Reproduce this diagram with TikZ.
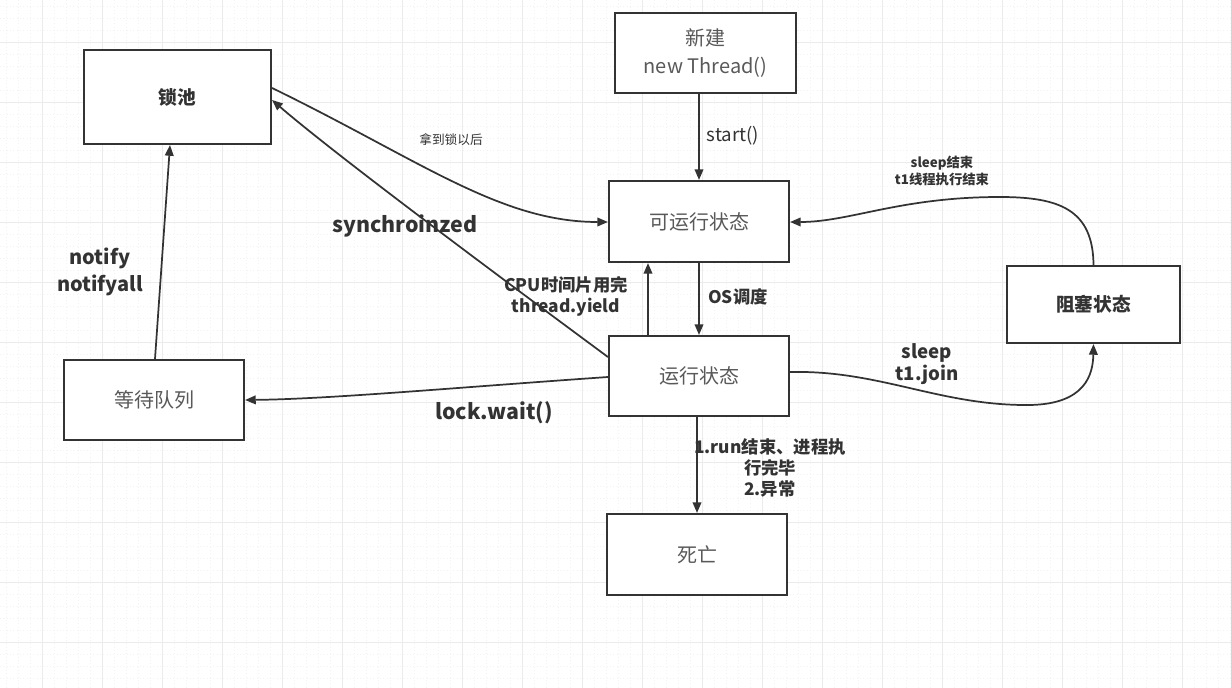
\documentclass[tikz,border=0pt]{standalone}
\usepackage{fontspec}
\newfontfamily\cjk{Noto Sans CJK SC}
\usetikzlibrary{arrows.meta,calc}
\definecolor{ink}{HTML}{333333}
\definecolor{txt}{HTML}{595959}
\definecolor{gridc}{HTML}{EBEBEB}
\definecolor{gridm}{HTML}{F3F3F3}
\begin{document}
\begin{tikzpicture}[x=0.75pt,y=-0.75pt,font=\cjk,
  box/.style={draw=ink,line width=1.6pt,fill=white,inner sep=0pt,text=txt,align=center,font=\cjk\fontsize{15}{21}\selectfont},
  bbox/.style={box,text=ink,font=\cjk\bfseries\fontsize{14}{17}\selectfont},
  edge/.style={draw=ink,line width=1.3pt,-{Triangle[length=8pt,width=6.5pt]}},
  lab/.style={text=ink,inner sep=0pt,align=center,font=\cjk\bfseries\fontsize{13}{15.75}\selectfont},
]
\fill[white] (0,0) rectangle (1231,688);
\useasboundingbox (0,0) rectangle (1231,688);
% grid
\foreach \x in {6,18,...,1230} \draw[gridm,line width=0.5pt,dotted] (\x,0) -- (\x,688);
\foreach \y in {6,18,...,686} \draw[gridm,line width=0.5pt,dotted] (0,\y) -- (1231,\y);
\foreach \x in {42,102,...,1230} \draw[gridc,line width=0.6pt] (\x,0) -- (\x,688);
\foreach \y in {42,102,...,686} \draw[gridc,line width=0.6pt] (0,\y) -- (1231,\y);

% nodes
\node[bbox,minimum width=140.25pt,minimum height=70.5pt] (lock) at (177.5,97) {锁池};
\node[box,minimum width=135.75pt,minimum height=60pt] (new) at (705.5,53) {新建\\new Thread()};
\node[box,minimum width=135pt,minimum height=60.75pt] (runnable) at (699,221.5) {可运行状态};
\node[bbox,minimum width=129.75pt,minimum height=57.75pt] (blocked) at (1093.5,304.5) {阻塞状态};
\node[box,minimum width=135pt,minimum height=60pt] (running) at (699,376) {运行状态};
\node[box,minimum width=135pt,minimum height=60pt] (wait) at (154,400) {等待队列};
\node[box,minimum width=135pt,minimum height=60.75pt] (dead) at (697,554.5) {死亡};

% edges
\draw[edge] (runnable.north |- new.south) -- (runnable.north);
\draw[edge] (runnable.south) -- (running.north);
\draw[edge] ($(running.north)+(-51,0)$) -- ($(runnable.south)+(-51,0)$);
\draw[edge] (running.south -| dead.north) -- (dead.north);
\draw[edge] ($(lock.east)+(0,-9)$) .. controls (420,160) and (500,222) .. ($(runnable.west)+(0,0.5)$);
\draw[edge] ($(running.west)+(0,-19)$) .. controls (470,255) and (330,150) .. ($(lock.east)+(0,3)$);
\draw[edge] ($(running.west)+(0,1)$) .. controls (450,388) and (330,399) .. (wait.east);
\draw[edge] ($(wait.north)+(1,0)$) -- ($(lock.south)+(-7.5,0)$);
\draw[edge] ($(running.east)+(0,-4)$) .. controls (880,370) and (940,406) .. (1030,405) .. controls (1085,404) and (1093,375) .. (blocked.south);
\draw[edge] (blocked.north) .. controls (1093,210) and (1060,197) .. (1000,197) .. controls (900,197) and (850,222) .. ($(runnable.east)+(0,0.5)$);

% labels
\node[text=ink,inner sep=0pt,font=\cjk\fontsize{14}{17}\selectfont] (lstart) at (733,136) {start()};
\node[lab] (los) at (738,297) {OS调度};
\node[lab] (lcpu) at (566,296) {CPU时间片用完\\thread.yield};
\node[text=ink,inner sep=0pt,font=\cjk\fontsize{9.5}{12}\selectfont] (lget) at (451,140) {拿到锁以后};
\node[lab,font=\cjk\bfseries\fontsize{16}{19}\selectfont] (lsync) at (405,226) {synchroinzed};
\node[lab,font=\cjk\bfseries\fontsize{16}{19}\selectfont] (lwaitc) at (494,413) {lock.wait()};
\node[lab,font=\cjk\bfseries\fontsize{15}{20}\selectfont] (lnotify) at (100,272) {notify\\notifyall};
\node[lab,font=\cjk\bfseries\fontsize{14}{16.5}\selectfont] (lsleep) at (927,364) {sleep\\t1.join};
\node[lab,font=\cjk\bfseries\fontsize{10}{12.75}\selectfont] (lsleepend) at (942,171) {sleep结束\\t1线程执行结束};
\node[lab] (ldead) at (770,468) {1.run结束、进程执\\行完毕\\2.异常};
\end{tikzpicture}
\end{document}
